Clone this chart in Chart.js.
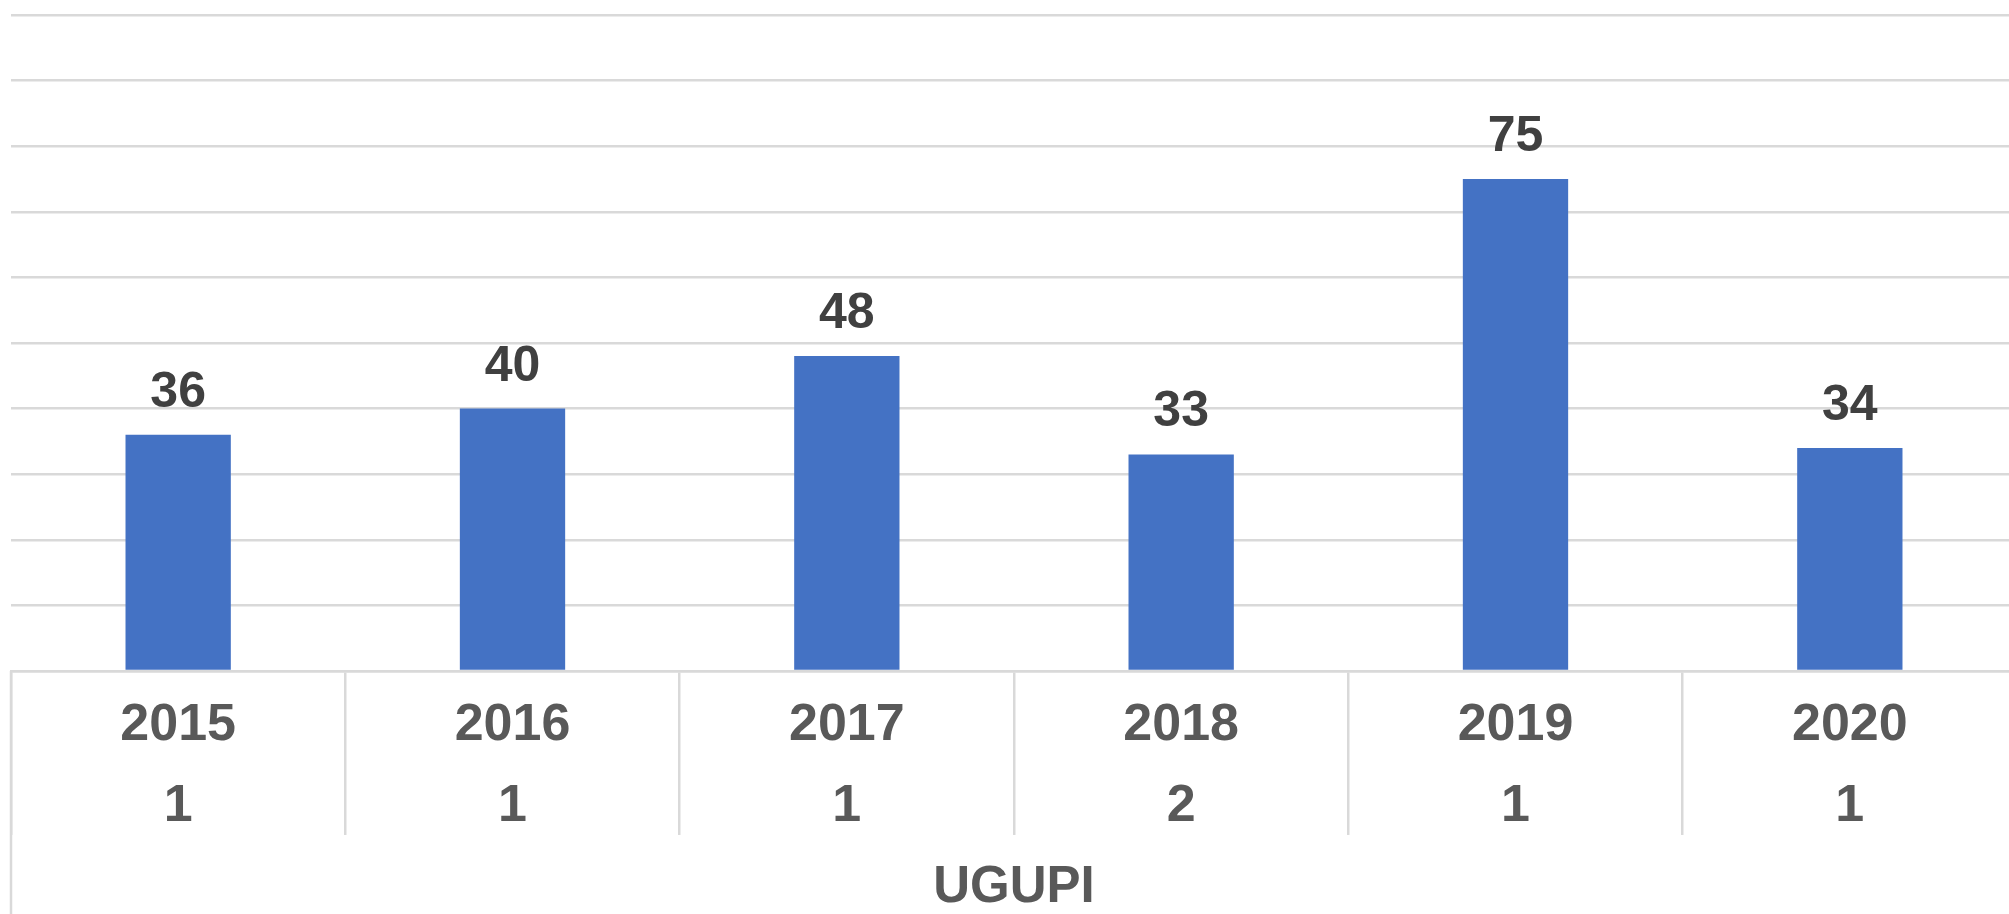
<!DOCTYPE html>
<html>
<head>
<meta charset="utf-8">
<script src="https://cdn.jsdelivr.net/npm/chart.js@4"></script>
<style>
  body { margin: 0; overflow: hidden; background: #ffffff; }
  #contenedor { width: 2020px; height: 914px; }
</style>
</head>
<body>
<div id="contenedor"><canvas id="myChart"></canvas></div>
<script>
const anios = ["2015", "2016", "2017", "2018", "2019", "2020"];
const cantidades = ["1", "1", "1", "2", "1", "1"];
const valores = [36, 40, 48, 33, 75, 34];
const tituloEje = "UGUPI";

const fuente = '"Liberation Sans", Arial, sans-serif';
const colorGrilla = "#d9d9d9";

// etiquetas de valor sobre cada barra
const etiquetasPlugin = {
  id: "etiquetas",
  afterDatasetsDraw(chart) {
    const ctx = chart.ctx;
    const meta = chart.getDatasetMeta(0);
    ctx.save();
    ctx.font = "bold 50px " + fuente;
    ctx.fillStyle = "#404040";
    ctx.textAlign = "center";
    ctx.textBaseline = "alphabetic";
    meta.data.forEach((barra, i) => {
      ctx.fillText(valores[i], barra.x, barra.y - 28);
    });
    ctx.restore();
  },
};

// linea izquierda del eje de categorias, baja hasta el final
const bordeIzquierdo = {
  id: "bordeIzquierdo",
  afterDraw(chart) {
    const ctx = chart.ctx;
    const area = chart.chartArea;
    ctx.save();
    ctx.strokeStyle = colorGrilla;
    ctx.lineWidth = 2.5;
    ctx.beginPath();
    ctx.moveTo(area.left, area.bottom);
    ctx.lineTo(area.left, chart.height);
    ctx.stroke();
    ctx.restore();
  },
};

const etiquetas = anios.map((anio, i) => [anio, cantidades[i]]);

new Chart(document.getElementById("myChart"), {
  type: "bar",
  data: {
    labels: etiquetas,
    datasets: [
      {
        data: valores,
        backgroundColor: "#4472c4",
        categoryPercentage: 0.315,
        barPercentage: 1,
      },
    ],
  },
  options: {
    responsive: true,
    maintainAspectRatio: false,
    animation: false,
    layout: { padding: { left: 11, right: 3, top: 15, bottom: 0 } },
    plugins: {
      legend: { display: false },
      tooltip: { enabled: false },
    },
    scales: {
      x: {
        grid: {
          offset: true,
          drawOnChartArea: false,
          drawTicks: true,
          tickLength: 164,
          color: colorGrilla,
          lineWidth: 2.5,
        },
        border: { display: true, color: colorGrilla, width: 2.5 },
        ticks: {
          color: "#595959",
          font: { family: fuente, size: 52, weight: "bold", lineHeight: 1.558 },
          padding: -150, // el padding cuenta doble en el alto del eje
          maxRotation: 0,
          autoSkip: false,
        },
        title: {
          display: true,
          text: tituloEje,
          color: "#595959",
          font: { family: fuente, size: 51, weight: "bold", lineHeight: 1 },
          padding: { top: 165, bottom: 1 },
        },
      },
      y: {
        min: 0,
        max: 100,
        ticks: { display: false, stepSize: 10 },
        grid: { color: colorGrilla, lineWidth: 2.5, drawTicks: false },
        border: { display: false },
      },
    },
  },
  plugins: [etiquetasPlugin, bordeIzquierdo],
});
</script>
</body>
</html>
